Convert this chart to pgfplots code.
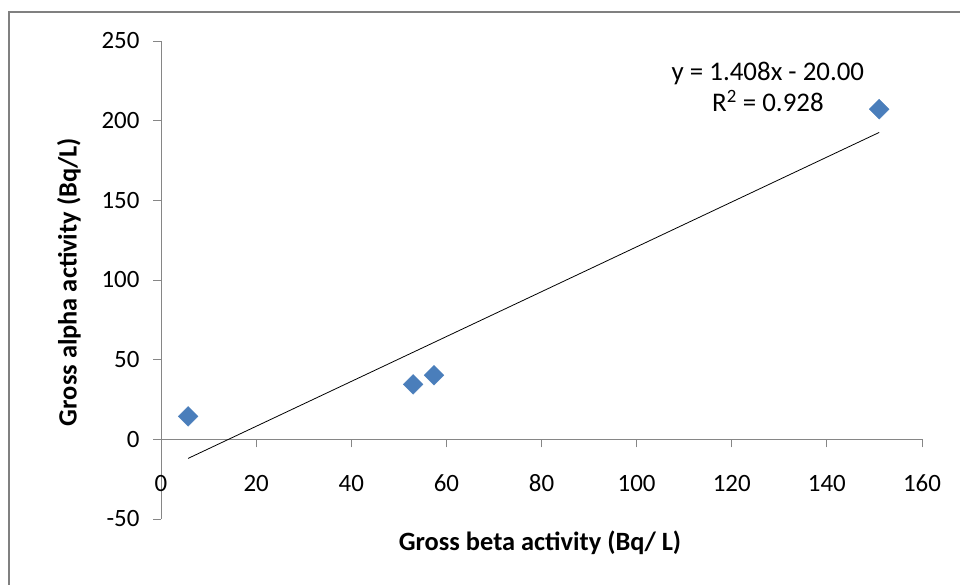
\documentclass[border=0pt]{standalone}
\usepackage{fontspec}
\setmainfont{Carlito}
\usepackage{pgfplots}
\pgfplotsset{compat=1.18}
\definecolor{mkblue}{RGB}{74,126,187}
\definecolor{axgray}{RGB}{134,134,134}
\definecolor{framegray}{RGB}{128,128,128}
\begin{document}
\begin{tikzpicture}[x=1bp,y=1bp]
  \begin{axis}[
    at={(161bp,66bp)}, anchor=south west,
    scale only axis,
    width=761bp, height=478bp,
    xmin=0, xmax=160, ymin=-50, ymax=250,
    axis lines=middle,
    axis line style={-, draw=axgray, line width=0.9bp},
    hide obscured x ticks=false, hide obscured y ticks=false,
    xtick={0,20,...,160}, ytick={-50,0,...,250},
    tick align=outside,
    major tick length=8bp,
    tick style={draw=axgray, line width=0.9bp},
    tick label style={font=\fontsize{25}{28}\selectfont, text=black},
    xticklabel style={yshift=-24bp},
    yticklabel style={xshift=-10bp},
    /pgf/number format/assume math mode=true,
    clip=false,
  ]
    % observed data
    \addplot[only marks, mark=square*, mark size=7bp,
      mark options={rotate=45, fill=mkblue, draw=mkblue}]
      coordinates {(5.7,14.4) (53.0,34.5) (57.4,40.2) (151.0,207.2)};
    % linear trendline y = 1.408x - 20.00
    \addplot[black, line width=0.8bp, no marks]
      coordinates {(5.7,-11.97) (151.0,192.61)};
    \node[font=\fontsize{27}{31}\selectfont, align=center, anchor=center]
      at (axis cs:127.6,221) {y = 1.408x - 20.00\\R\textsuperscript{2} = 0.928};
  \end{axis}
  \node[font=\fontsize{26.5}{28}\selectfont\bfseries, anchor=center]
    at (540,42) {Gross beta activity (Bq/ L)};
  \node[font=\fontsize{26.5}{28}\selectfont\bfseries, anchor=center, rotate=90]
    at (69,303) {Gross alpha activity (Bq/L)};
  \draw[framegray, line width=2bp] (9,0) -- (9,573) -- (960,573);
  \pgfresetboundingbox
  \useasboundingbox (0,0) rectangle (960,585);
\end{tikzpicture}
\end{document}
